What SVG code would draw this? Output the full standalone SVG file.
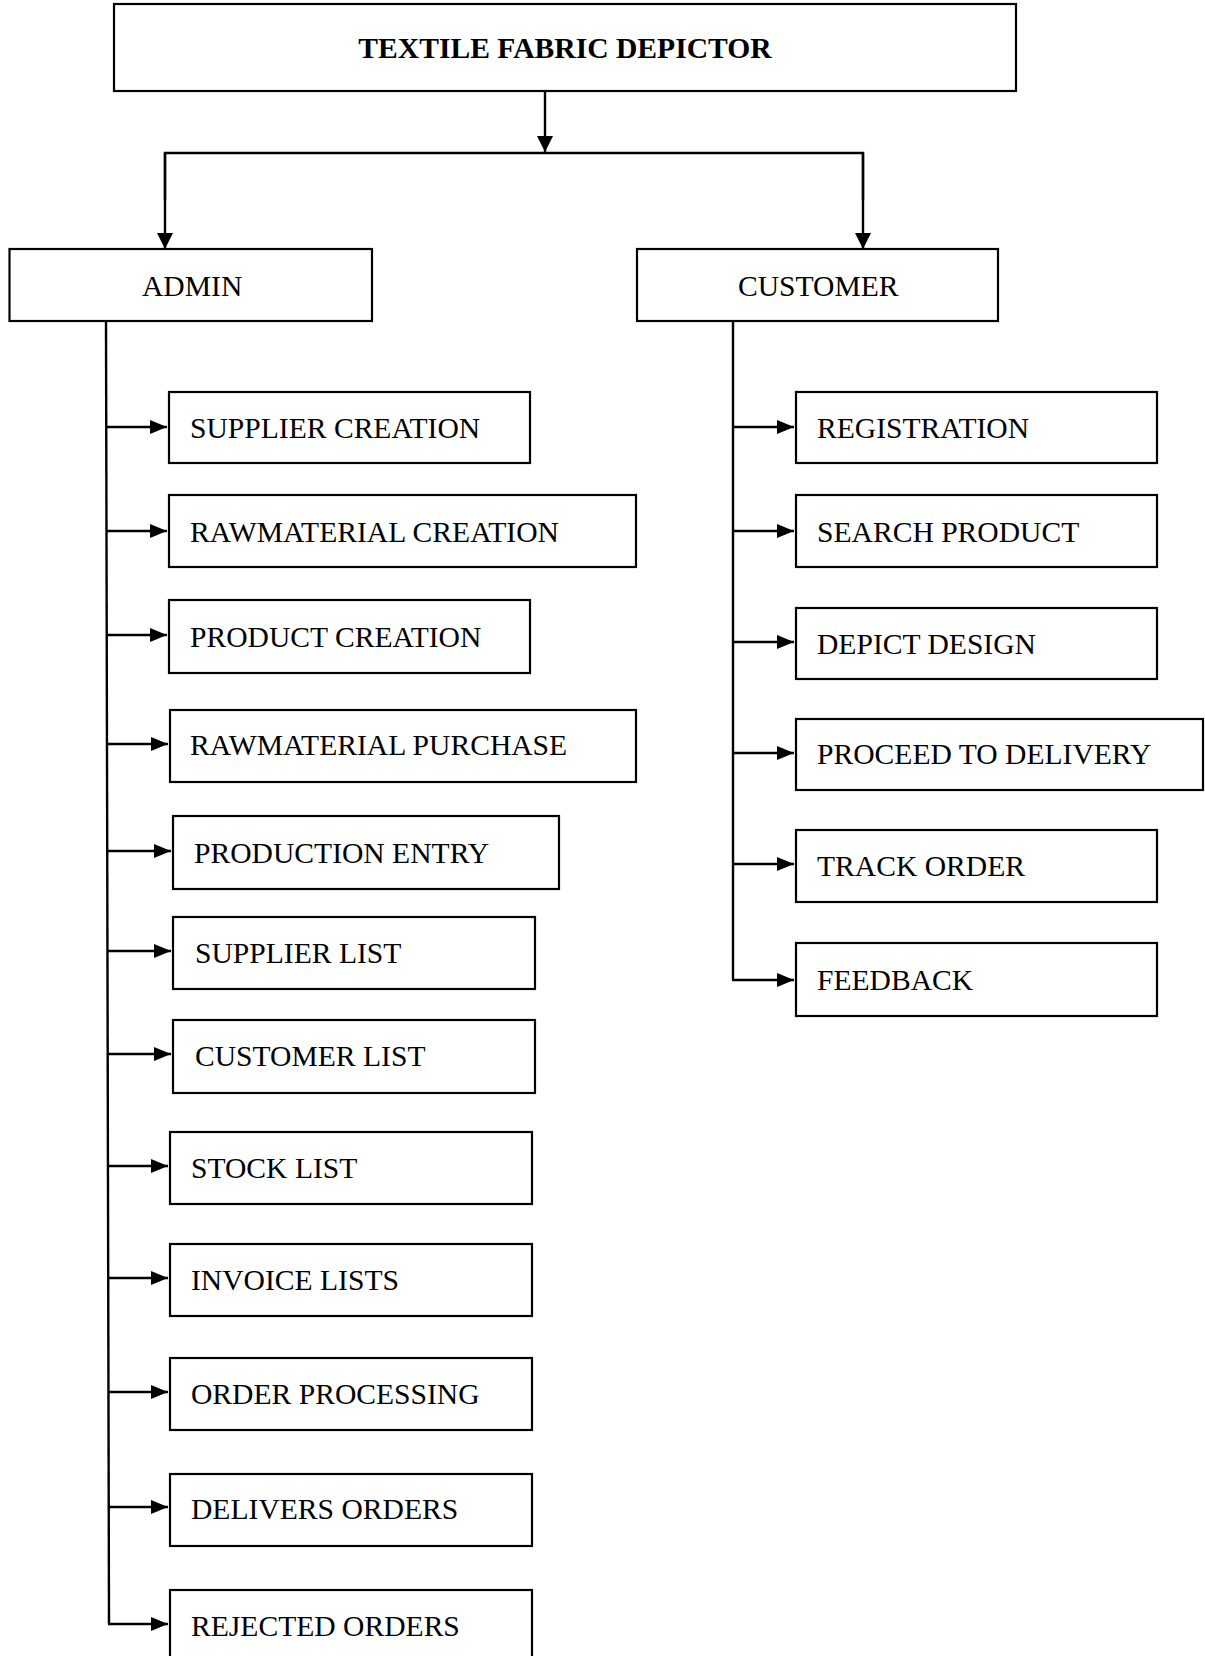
<svg xmlns="http://www.w3.org/2000/svg" width="1205" height="1656" viewBox="0 0 1205 1656">
<defs>
<style>
.box{fill:#fff;stroke:#000;stroke-width:2.2}
.lbl{font-family:"Liberation Serif","Times New Roman",serif;font-size:29.6px;fill:#000}
.ttl{font-weight:bold}
.con{fill:none;stroke:#000;stroke-width:2.4}
.side{marker-end:url(#ahs)}
.down{marker-end:url(#ahd)}
</style>
<marker id="ahs" markerUnits="userSpaceOnUse" markerWidth="17" markerHeight="14" refX="17" refY="7" orient="auto" viewBox="0 0 17 14"><path d="M0,0 L17,7 L0,14 z" fill="#000"/></marker>
<marker id="ahd" markerUnits="userSpaceOnUse" markerWidth="16" markerHeight="16" refX="16" refY="8" orient="auto" viewBox="0 0 16 16"><path d="M0,0 L16,8 L0,16 z" fill="#000"/></marker>
</defs>
<rect width="1205" height="1656" fill="#fff"/>

<g id="connectors">
<line class="con down" x1="545" y1="91" x2="545" y2="152"/>
<polyline class="con" points="165,200 165,153 863,153 863,200"/>
<line class="con down" x1="165" y1="153" x2="165" y2="249"/>
<line class="con down" x1="863" y1="153" x2="863" y2="249"/>
<path class="con" d="M106,321 L109,1624"/>
<line class="con side" x1="106" y1="427" x2="167" y2="427"/>
<line class="con side" x1="106" y1="531" x2="167" y2="531"/>
<line class="con side" x1="107" y1="635" x2="167" y2="635"/>
<line class="con side" x1="107" y1="744" x2="168" y2="744"/>
<line class="con side" x1="107" y1="851" x2="171" y2="851"/>
<line class="con side" x1="107" y1="951" x2="171" y2="951"/>
<line class="con side" x1="108" y1="1054" x2="171" y2="1054"/>
<line class="con side" x1="108" y1="1166" x2="168" y2="1166"/>
<line class="con side" x1="108" y1="1278" x2="168" y2="1278"/>
<line class="con side" x1="108" y1="1392" x2="168" y2="1392"/>
<line class="con side" x1="109" y1="1507" x2="168" y2="1507"/>
<line class="con side" x1="108" y1="1624" x2="168" y2="1624"/>
<path class="con" d="M733,321 L733,980"/>
<line class="con side" x1="733" y1="427" x2="794" y2="427"/>
<line class="con side" x1="733" y1="531" x2="794" y2="531"/>
<line class="con side" x1="733" y1="642" x2="794" y2="642"/>
<line class="con side" x1="733" y1="753" x2="794" y2="753"/>
<line class="con side" x1="733" y1="864" x2="794" y2="864"/>
<line class="con side" x1="732" y1="980" x2="794" y2="980"/>
</g>

<g id="title"><rect class="box" x="114" y="4" width="902" height="87"/><text class="lbl ttl" x="565" y="58" text-anchor="middle">TEXTILE FABRIC DEPICTOR</text></g>
<g id="admin"><rect class="box" x="9.5" y="249" width="362.5" height="72"/><text class="lbl" x="142" y="296">ADMIN</text></g>
<g id="customer"><rect class="box" x="637" y="249" width="361" height="72"/><text class="lbl" x="738" y="296">CUSTOMER</text></g>

<g id="supplier-creation"><rect class="box" x="169" y="392" width="361" height="71"/><text class="lbl" x="190" y="438">SUPPLIER CREATION</text></g>
<g id="rawmaterial-creation"><rect class="box" x="169" y="495" width="467" height="72"/><text class="lbl" x="190" y="542">RAWMATERIAL CREATION</text></g>
<g id="product-creation"><rect class="box" x="169" y="600" width="361" height="73"/><text class="lbl" x="190" y="647">PRODUCT CREATION</text></g>
<g id="rawmaterial-purchase"><rect class="box" x="170" y="710" width="466" height="72"/><text class="lbl" x="190" y="755">RAWMATERIAL PURCHASE</text></g>
<g id="production-entry"><rect class="box" x="173" y="816" width="386" height="73"/><text class="lbl" x="194" y="863">PRODUCTION ENTRY</text></g>
<g id="supplier-list"><rect class="box" x="173" y="917" width="362" height="72"/><text class="lbl" x="195" y="963">SUPPLIER LIST</text></g>
<g id="customer-list"><rect class="box" x="173" y="1020" width="362" height="73"/><text class="lbl" x="195" y="1066">CUSTOMER LIST</text></g>
<g id="stock-list"><rect class="box" x="170" y="1132" width="362" height="72"/><text class="lbl" x="191" y="1178">STOCK LIST</text></g>
<g id="invoice-lists"><rect class="box" x="170" y="1244" width="362" height="72"/><text class="lbl" x="191" y="1290">INVOICE LISTS</text></g>
<g id="order-processing"><rect class="box" x="170" y="1358" width="362" height="72"/><text class="lbl" x="191" y="1404">ORDER PROCESSING</text></g>
<g id="delivers-orders"><rect class="box" x="170" y="1474" width="362" height="72"/><text class="lbl" x="191" y="1519">DELIVERS ORDERS</text></g>
<g id="rejected-orders"><rect class="box" x="170" y="1590" width="362" height="80"/><text class="lbl" x="191" y="1636">REJECTED ORDERS</text></g>

<g id="registration"><rect class="box" x="796" y="392" width="361" height="71"/><text class="lbl" x="817" y="438">REGISTRATION</text></g>
<g id="search-product"><rect class="box" x="796" y="495" width="361" height="72"/><text class="lbl" x="817" y="542">SEARCH PRODUCT</text></g>
<g id="depict-design"><rect class="box" x="796" y="608" width="361" height="71"/><text class="lbl" x="817" y="654">DEPICT DESIGN</text></g>
<g id="proceed-to-delivery"><rect class="box" x="796" y="719" width="407" height="71"/><text class="lbl" x="817" y="764">PROCEED TO DELIVERY</text></g>
<g id="track-order"><rect class="box" x="796" y="830" width="361" height="72"/><text class="lbl" x="817" y="876">TRACK ORDER</text></g>
<g id="feedback"><rect class="box" x="796" y="943" width="361" height="73"/><text class="lbl" x="817" y="990">FEEDBACK</text></g>
</svg>
